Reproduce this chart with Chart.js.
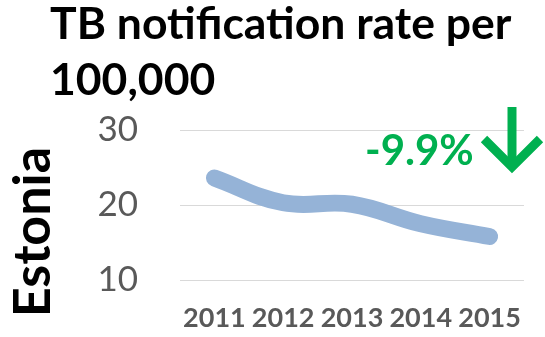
<!DOCTYPE html>
<html>
<head>
<meta charset="utf-8">
<script src="https://cdn.jsdelivr.net/npm/chart.js@4.4.1/dist/chart.umd.min.js"></script>
<style>
  html, body { margin: 0; padding: 0; background: #fff; }
  #wrap { width: 545px; height: 337px; }
</style>
</head>
<body>
<div id="wrap"><canvas id="tbChart" width="545" height="337"></canvas></div>
<script>
const years = ["2011", "2012", "2013", "2014", "2015"];
const rateEstonia = [23.6, 20.3, 20.1, 17.5, 15.8];
const yTicks = [10, 20, 30];
const titleLines = ["TB notification rate per", "100,000"];
const countryName = "Estonia";
const changeLabel = "-9.9%";

const FONT = "Lato, 'Open Sans', sans-serif";
const GREEN = "#00B050";

// headline, rotated country name and the green trend arrow
const decorations = {
  id: "decorations",
  afterDraw(chart) {
    const ctx = chart.ctx;
    ctx.save();
    ctx.fillStyle = "#000";
    ctx.textAlign = "left";
    ctx.textBaseline = "alphabetic";
    ctx.font = "bold 44.5px " + FONT;
    ctx.fillText(titleLines[0], 50, 39);
    ctx.fillText(titleLines[1], 50, 95);
    ctx.restore();

    ctx.save();
    ctx.translate(50, 232);
    ctx.rotate(-Math.PI / 2);
    ctx.fillStyle = "#000";
    ctx.textAlign = "center";
    ctx.textBaseline = "alphabetic";
    ctx.font = "bold 52px " + FONT;
    ctx.fillText(countryName, 0, 0);
    ctx.restore();

    ctx.save();
    ctx.fillStyle = GREEN;
    ctx.textAlign = "left";
    ctx.textBaseline = "alphabetic";
    ctx.font = "bold 42px " + FONT;
    ctx.fillText(changeLabel, 365, 165);

    ctx.strokeStyle = GREEN;
    ctx.lineWidth = 9;
    ctx.lineCap = "butt";
    ctx.beginPath();
    ctx.moveTo(512, 107);
    ctx.lineTo(512, 166);
    ctx.stroke();
    ctx.lineJoin = "miter";
    ctx.beginPath();
    ctx.moveTo(484, 139);
    ctx.lineTo(512, 167);
    ctx.lineTo(540, 139);
    ctx.stroke();
    ctx.restore();
  }
};

function draw() {
  const ctx = document.getElementById("tbChart").getContext("2d");
  new Chart(ctx, {
    type: "line",
    data: {
      labels: years,
      datasets: [{
        data: rateEstonia,
        borderColor: "#95B3D7",
        borderWidth: 17,
        borderCapStyle: "round",
        borderJoinStyle: "round",
        tension: 0.4,
        pointRadius: 0,
        fill: false,
        clip: false
      }]
    },
    options: {
      responsive: false,
      animation: false,
      devicePixelRatio: 1,
      layout: { padding: { top: 130, right: 21, left: 0, bottom: 0 } },
      plugins: {
        legend: { display: false },
        tooltip: { enabled: false },
        title: { display: false }
      },
      scales: {
        x: {
          offset: true,
          grid: { display: false, drawTicks: false },
          border: { display: false },
          ticks: {
            autoSkip: false,
            maxRotation: 0,
            padding: 22,
            color: "#595959",
            font: { family: FONT, size: 27, weight: "bold" }
          },
          afterFit: s => { s.height = 57; }
        },
        y: {
          min: 10,
          max: 30,
          grid: { color: "#D9D9D9", lineWidth: 1, drawTicks: false },
          border: { display: false },
          ticks: {
            padding: 42,
            color: "#595959",
            font: { family: FONT, size: 35 }
          },
          afterBuildTicks: s => { s.ticks = yTicks.map(v => ({ value: v })); },
          afterFit: s => {
            // the wide tick gap should not eat into the plot height
            s.width = 180;
            s.paddingTop = 0;
            s.paddingBottom = 0;
          }
        }
      }
    },
    plugins: [decorations]
  });
}

if (document.fonts && document.fonts.load) {
  Promise.all([
    document.fonts.load("bold 44px Lato"),
    document.fonts.load("35px Lato")
  ]).then(draw, draw);
} else {
  draw();
}
</script>
</body>
</html>
